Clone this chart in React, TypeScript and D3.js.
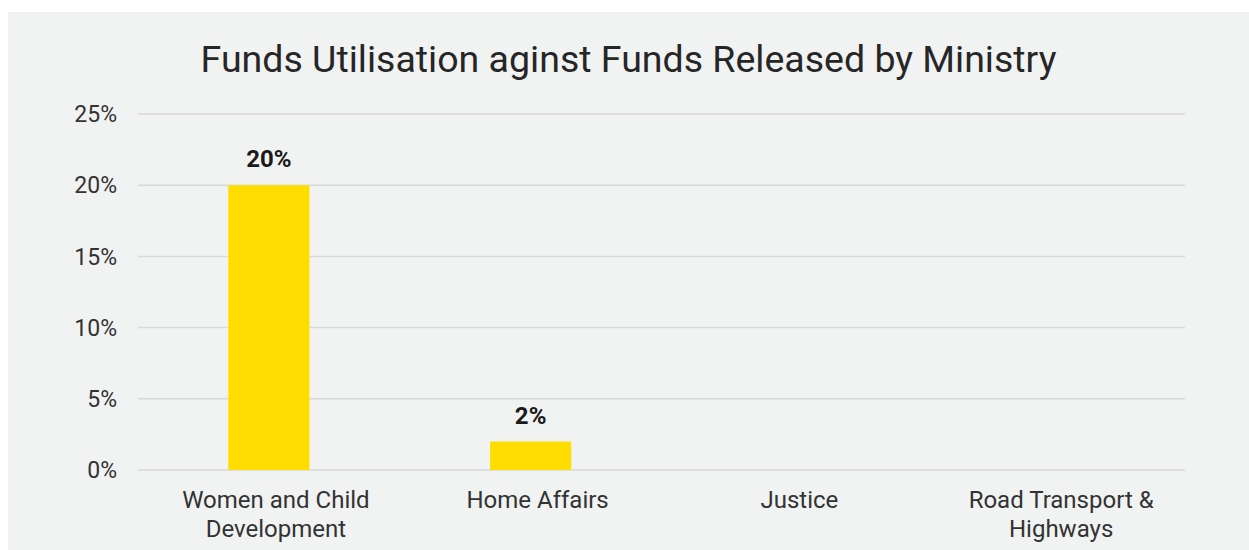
import React from "react";
import * as d3 from "d3";

const categories: string[][] = [
  ["Women and Child", "Development"],
  ["Home Affairs"],
  ["Justice"],
  ["Road Transport &", "Highways"],
];
const values: (number | null)[] = [0.2, 0.02, null, null];
const yTicks: number[] = [0, 0.05, 0.1, 0.15, 0.2, 0.25];
const title = "Funds Utilisation aginst Funds Released by Ministry";

const W = 1249;
const H = 550;
const FONT = "Roboto, 'Noto Sans', sans-serif";

export default function App() {
  const left = 138;
  const right = 1185;
  const top = 114;
  const bottom = 470;
  const x = d3
    .scaleBand<number>()
    .domain(categories.map((_, i) => i))
    .range([left, right])
    .paddingInner(0.69)
    .paddingOuter(0.345);
  const y = d3.scaleLinear().domain([0, 0.25]).range([bottom, top]);
  const fmt = d3.format(".0%");
  const xc = (i: number) => (x(i) as number) + x.bandwidth() / 2;
  const band = (right - left) / categories.length;
  const labelX = (i: number) => left + band * i + band / 2 + 7;

  return (
    <svg
      width={W}
      height={H}
      style={{ position: "absolute", left: 0, top: 0, display: "block" }}
    >
      <rect x={0} y={0} width={W} height={H} fill="#ffffff" />
      <rect x={8} y={12} width={W - 8} height={H - 12} fill="#f1f2f2" />
      <text
        x={628.5}
        y={72}
        textAnchor="middle"
        fontFamily={FONT}
        fontSize={37.5}
        fill="#262626"
      >
        {title}
      </text>
      {yTicks.map((t) => (
        <g key={t}>
          <line
            x1={left}
            x2={right}
            y1={y(t)}
            y2={y(t)}
            stroke="#d9d9d9"
            strokeWidth={1.5}
          />
          <text
            x={117}
            y={y(t)}
            dy="0.36em"
            textAnchor="end"
            fontFamily={FONT}
            fontSize={23}
            fill="#333333"
          >
            {fmt(t)}
          </text>
        </g>
      ))}
      {values.map((v, i) =>
        v == null ? null : (
          <g key={i}>
            <rect
              x={x(i)}
              y={y(v)}
              width={x.bandwidth()}
              height={y(0) - y(v)}
              fill="#ffdd00"
            />
            <text
              x={xc(i)}
              y={y(v) - 18}
              textAnchor="middle"
              fontFamily={FONT}
              fontWeight="bold"
              fontSize={24}
              fill="#1a1a1a"
            >
              {fmt(v)}
            </text>
          </g>
        )
      )}
      {categories.map((lines, i) => (
        <text
          key={i}
          x={labelX(i)}
          y={508}
          textAnchor="middle"
          fontFamily={FONT}
          fontSize={24}
          fill="#333333"
        >
          {lines.map((l, j) => (
            <tspan key={j} x={labelX(i)} dy={j === 0 ? 0 : 29}>
              {l}
            </tspan>
          ))}
        </text>
      ))}
    </svg>
  );
}
